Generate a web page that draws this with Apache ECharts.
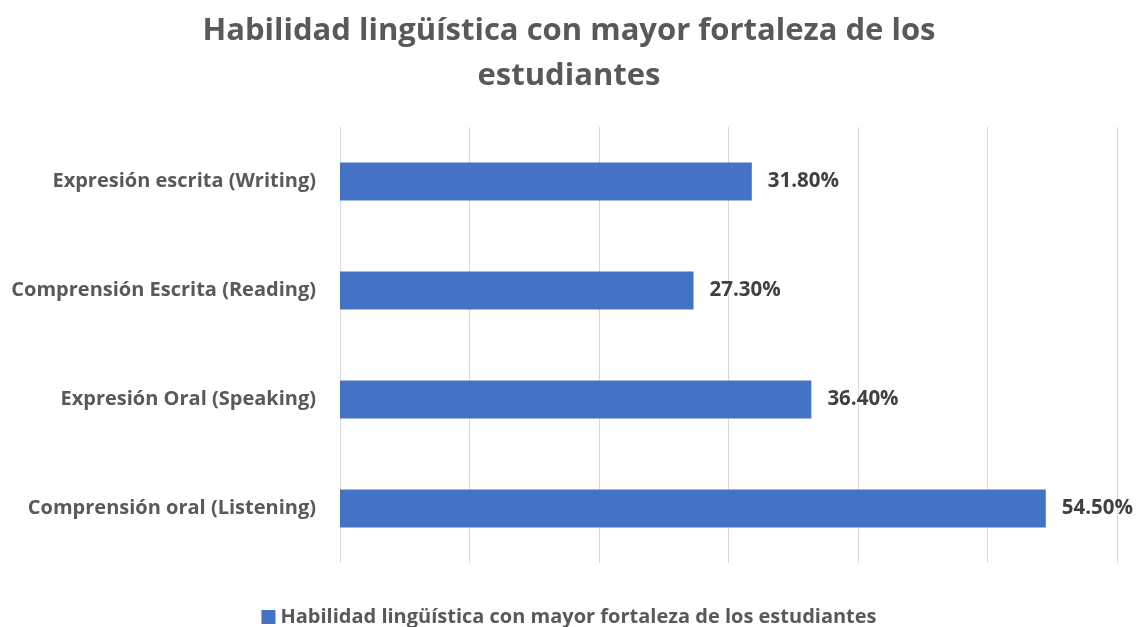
<!DOCTYPE html>
<html>
<head>
<meta charset="utf-8">
<script src="https://cdn.jsdelivr.net/npm/echarts@6/dist/echarts.min.js"></script>
<style>
  html, body { margin: 0; padding: 0; background: #fff; }
  #main { width: 1138px; height: 627px; }
</style>
</head>
<body>
<div id="main"></div>
<script>
// datos del gráfico (de abajo hacia arriba)
var categories = [
  'Comprensión oral (Listening)',
  'Expresión Oral (Speaking)',
  'Comprensión Escrita (Reading)',
  'Expresión escrita (Writing)'
];
var values = [54.5, 36.4, 27.3, 31.8];
var seriesName = 'Habilidad lingüística con mayor fortaleza de los estudiantes';

var font = '"Open Sans", sans-serif';
var myChart = echarts.init(document.getElementById('main'));
var option = {
  animation: false,
  title: {
    text: 'Habilidad lingüística con mayor fortaleza de los\nestudiantes',
    left: 'center',
    top: 4,
    textStyle: {
      fontFamily: font,
      fontSize: 31,
      fontWeight: 'bold',
      color: '#595959',
      lineHeight: 45
    }
  },
  legend: {
    data: [seriesName],
    top: 602,
    left: 'center',
    itemWidth: 14,
    itemHeight: 14,
    itemGap: 6,
    icon: 'rect',
    textStyle: {
      fontFamily: font,
      fontSize: 20,
      fontWeight: 'bold',
      color: '#595959'
    }
  },
  grid: {
    left: 340,
    right: 21,
    top: 127,
    bottom: 64,
    containLabel: false
  },
  xAxis: {
    type: 'value',
    min: 0,
    max: 60,
    interval: 10,
    axisLabel: { show: false },
    axisLine: { show: false },
    axisTick: { show: false },
    splitLine: { lineStyle: { color: '#d9d9d9', width: 1 } }
  },
  yAxis: {
    type: 'category',
    data: categories,
    axisLine: { show: false },
    axisTick: { show: false },
    axisLabel: {
      margin: 24,
      fontFamily: font,
      fontSize: 20,
      fontWeight: 'bold',
      color: '#595959'
    }
  },
  series: [{
    name: seriesName,
    type: 'bar',
    data: values,
    barWidth: '35%',
    itemStyle: { color: '#4472C4' },
    label: {
      show: true,
      position: 'right',
      distance: 16,
      formatter: function (p) { return p.value.toFixed(2) + '%'; },
      fontFamily: font,
      fontSize: 20.5,
      fontWeight: 'bold',
      color: '#404040'
    }
  }]
};
myChart.setOption(option);
</script>
</body>
</html>
